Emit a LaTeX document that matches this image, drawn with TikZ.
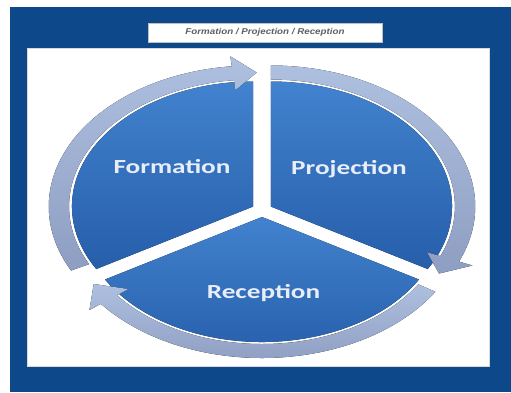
\documentclass[tikz,border=0pt]{standalone}
\usepackage{fontspec}
\usepackage{xcolor}
\usepackage{tikz}
\usetikzlibrary{positioning,calc}
\setmainfont{Carlito}
\newfontfamily\titlefont{Liberation Sans}
\definecolor{frameblue}{RGB}{12,72,138}
\definecolor{pietop}{RGB}{66,130,206}
\definecolor{piebottom}{RGB}{38,94,170}
\definecolor{ringtop}{RGB}{174,192,224}
\definecolor{ringbottom}{RGB}{142,158,194}
\definecolor{labelwhite}{RGB}{232,238,248}
\tikzstyle{sector} = [top color=pietop, bottom color=piebottom]
\tikzstyle{ring} = [top color=ringtop, bottom color=ringbottom]
\tikzstyle{sectortext} = [text=labelwhite, anchor=base, inner sep=0pt,
    font=\bfseries\fontsize{20}{24}\selectfont]
\tikzstyle{titlebox} = [rectangle, draw=gray!50, fill=white, minimum width=234pt,
    minimum height=19pt, inner sep=0pt, text=gray!75!black,
    font=\titlefont\bfseries\itshape\fontsize{8.5}{10}\selectfont]
\newcommand{\wide}[1]{\scalebox{1.36}[1]{#1}}
% ring arrow: shift, start angle, end of shaft, tip angle
\newcommand{\ringarrow}[4]{%
  \fill[ring, shift={#1}] (#2:127) arc[start angle=#2, end angle=#3, radius=127]
    -- (#3:117) -- (#4:134) -- (#3:151) -- (#3:141)
    arc[start angle=#3, end angle=#2, radius=141] -- cycle;}

\begin{document}
\begin{tikzpicture}[x=1pt, y=1pt]
  \useasboundingbox (-262,-182) rectangle (249,210);
  \fill[white] (-262,-182) rectangle (249,210);
  % Frame
  \fill[frameblue] (-252,-182) rectangle (249,203);
  \draw[gray!30, fill=white] (-235,-156) rectangle (227,162);
  \node[titlebox] (title) at (3,177.5) {\scalebox{1.15}[1]{Formation / Projection / Reception}};

  % Pie and rings
  \begin{scope}[xscale=1.45]
    \fill[sector, shift={(150:7)}] (0,0) -- (90:125) arc[start angle=90, end angle=210, radius=125] -- cycle;
    \fill[sector, shift={(30:7)}] (0,0) -- (90:125) arc[start angle=90, end angle=-30, radius=125] -- cycle;
    \fill[sector, shift={(270:7)}] (0,0) -- (-30:125) arc[start angle=-30, end angle=-150, radius=125] -- cycle;
    \ringarrow{(150:7)}{207}{96}{89}
    \ringarrow{(30:7)}{90}{-23}{-30}
    \ringarrow{(270:7)}{-32}{-142}{-150}
  \end{scope}

  % Nodes
  \node[sectortext] (formation) at (-90,37) {\wide{Formation}};
  \node[sectortext] (projection) at (87,36) {\wide{Projection}};
  \node[sectortext] (reception) at (1.5,-88) {\wide{Reception}};
\end{tikzpicture}
\end{document}
